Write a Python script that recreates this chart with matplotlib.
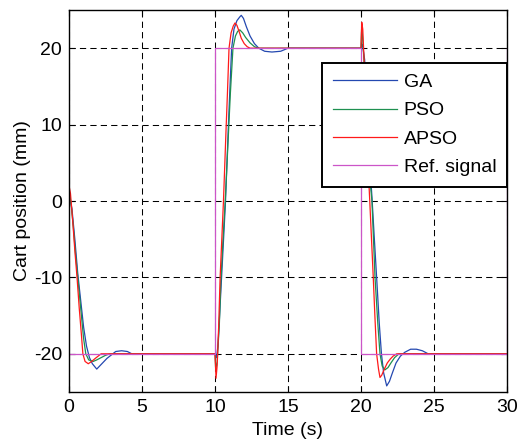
import matplotlib
matplotlib.use("Agg")
import matplotlib.pyplot as plt

plt.rcParams['font.family'] = ['Liberation Sans', 'DejaVu Sans']
plt.rcParams['axes.unicode_minus'] = False

# ---- data ----
t_ga = [0, 0.2, 0.4, 0.6, 0.8, 1.0, 1.2, 1.4, 1.6, 1.9, 2.2, 2.6, 3.0, 3.2, 3.6, 4.0, 4.3,
        10.0, 10.1, 10.2, 10.3, 10.45, 10.6, 10.72, 10.92, 11.05, 11.14, 11.3, 11.5, 11.7, 11.8,
        11.95, 12.15, 12.4, 12.7, 13.0, 13.4, 13.9, 14.5, 15.0,
        20.0, 20.1, 20.25, 20.45, 20.6, 20.75, 20.9, 21.07, 21.25, 21.4, 21.55, 21.76, 21.95,
        22.15, 22.4, 22.7, 23.0, 23.4, 23.8, 24.2, 24.6, 30.0]
v_ga = [1.0, -1.0, -5.0, -9.5, -13.0, -16.5, -19.0, -20.5, -21.3, -22.0, -21.4, -20.6, -20.0, -19.7, -19.6, -19.7, -20.0,
        -20.0, -20.5, -19.0, -15.5, -10.0, -4.5, 0.0, 10.0, 16.0, 20.0, 22.5, 23.6, 24.1, 24.3,
        23.9, 22.8, 21.6, 20.6, 20.0, 19.6, 19.5, 19.6, 20.0,
        20.0, 20.5, 18.5, 10.5, 5.0, 0.5, -4.5, -10.0, -16.0, -20.0, -22.5, -24.2, -23.6,
        -22.5, -21.2, -20.3, -19.8, -19.4, -19.4, -19.6, -20.0, -20.0]

t_pso = [0, 0.15, 0.3, 0.45, 0.6, 0.8, 1.0, 1.15, 1.35, 1.66, 1.9, 2.2, 2.5, 2.8,
         10.0, 10.05, 10.15, 10.3, 10.4, 10.55, 10.7, 10.9, 11.05, 11.23, 11.4, 11.55, 11.7,
         11.9, 12.1, 12.4, 12.7, 12.95,
         20.0, 20.05, 20.12, 20.25, 20.45, 20.6, 20.75, 20.96, 21.15, 21.3, 21.45, 21.64,
         21.85, 22.05, 22.3, 22.6, 30.0]
v_pso = [1.5, -0.5, -3.5, -7.0, -10.0, -14.0, -18.0, -20.0, -20.8, -21.0, -20.8, -20.5, -20.2, -20.0,
         -20.0, -22.1, -21.0, -16.0, -10.5, -5.0, 0.0, 8.0, 14.0, 20.0, 21.6, 22.2, 22.4,
         22.0, 21.4, 20.7, 20.2, 20.0,
         20.0, 23.0, 21.0, 17.0, 9.0, 3.0, 0.0, -10.0, -16.0, -20.0, -21.6, -22.1,
         -21.8, -21.2, -20.5, -20.0, -20.0]

t_apso = [0, 0.1, 0.25, 0.4, 0.55, 0.7, 0.85, 0.95, 1.1, 1.32, 1.55, 1.8, 2.0, 2.2,
          10.0, 10.07, 10.15, 10.25, 10.35, 10.5, 10.58, 10.75, 10.85, 10.96, 11.1, 11.25, 11.37,
          11.5, 11.65, 11.8, 12.0, 12.2, 12.4,
          20.0, 20.05, 20.12, 20.2, 20.35, 20.5, 20.6, 20.72, 20.84, 20.95, 21.07, 21.2, 21.3,
          21.42, 21.6, 21.8, 22.0, 22.2, 22.45, 30.0]
v_apso = [2.0, 1.0, -2.5, -6.5, -10.0, -14.0, -17.5, -20.0, -21.0, -21.3, -21.0, -20.6, -20.3, -20.0,
          -20.0, -23.2, -21.5, -16.5, -10.0, -3.5, 0.0, 9.0, 14.0, 20.0, 22.0, 22.9, 23.3,
          23.0, 22.2, 21.3, 20.6, 20.2, 20.0,
          20.0, 23.4, 22.5, 19.0, 11.0, 4.0, 0.0, -5.0, -10.0, -15.0, -20.0, -22.0, -23.1,
          -22.8, -22.0, -21.2, -20.7, -20.3, -20.0, -20.0]

t_ref = [0, 10, 10, 20, 20, 30, 30]
v_ref = [-20, -20, 20, 20, -20, -20, 20]

labels = ['GA', 'PSO', 'APSO', 'Ref. signal']
colors = ['#2448b0', '#1e9050', '#ff1a1a', '#cc55c8']
xticks = [0, 5, 10, 15, 20, 25, 30]
yticks = [-20, -10, 0, 10, 20]

# ---- figure ----
fig = plt.figure(figsize=(5.18, 4.44), dpi=100)
ax = fig.add_axes([69/518, 1 - 392/444, 438/518, 382/444])

series = [(t_ga, v_ga), (t_pso, v_pso), (t_apso, v_apso), (t_ref, v_ref)]
for (t, v), lab, c in zip(series, labels, colors):
    ax.plot(t, v, color=c, lw=0.9, label=lab)

ax.set_xlim(0, 30)
ax.set_ylim(-25, 25)
ax.set_xticks(xticks)
ax.set_yticks(yticks)
ax.tick_params(direction='in', length=4, width=0.8, labelsize=14, pad=5,
               top=True, right=True)
ax.grid(True, color='black', linestyle=(0, (6, 4)), linewidth=0.75)
for s in ax.spines.values():
    s.set_linewidth(1.0)

ax.set_xlabel('Time (s)', fontsize=14, labelpad=4)
ax.set_ylabel('Cart position (mm)', fontsize=14, labelpad=2)

leg = ax.legend(loc='upper right', bbox_to_anchor=(1.0, 0.862), borderaxespad=0,
                fontsize=14, fancybox=False, framealpha=1, edgecolor='black',
                handlelength=3.3, handletextpad=0.35, labelspacing=0.55,
                borderpad=0.55)
leg.get_frame().set_linewidth(1.4)

fig.savefig('out.png', dpi=100)
